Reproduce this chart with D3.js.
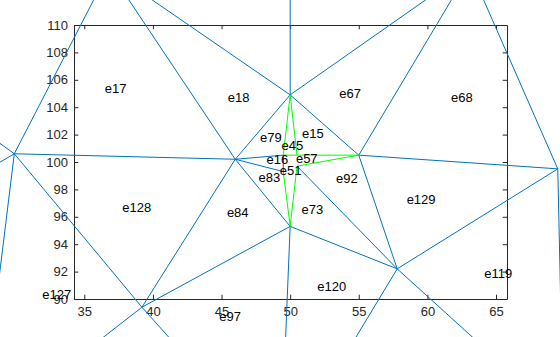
<!DOCTYPE html>
<html>
<head>
<meta charset="utf-8">
<script src="https://cdn.jsdelivr.net/npm/d3@7"></script>
<style>
  body { margin: 0; background: #fff; }
  svg { display: block; overflow: visible; }
</style>
</head>
<body>
<div id="root"></div>
<script>
// mesh vertices (data units), incl. the ones lying outside the axes
const vertexNames = ["A", "B", "C", "D", "E", "F", "G", "H", "P1", "P2", "Q1", "Q2",
  "V1", "V2", "V3", "V4", "V6", "V8", "V9", "V10"];
const vertexX = [50.0, 46.0, 55.0, 50.0, 57.8, 29.9, 39.2, 69.5, 49.5, 49.5, 50.5, 50.5,
  36.8, 63.1, 50.0, 24.8, 27.4, 49.3, 69.9, 24.8];
const vertexY = [104.9, 100.2, 100.5, 95.3, 92.2, 100.6, 89.4, 99.5, 100.5, 99.3, 100.5, 99.7,
  114.0, 114.1, 115.5, 104.3, 80.2, 78.1, 81.2, 97.6];

const blueEdges = [
  ["F", "B"], ["B", "A"], ["B", "D"], ["B", "G"], ["B", "P1"], ["B", "P2"],
  ["A", "C"], ["A", "V1"], ["A", "V3"], ["A", "V2"],
  ["C", "V2"], ["C", "H"], ["C", "E"],
  ["D", "E"], ["D", "G"], ["D", "V8"], ["Q2", "E"],
  ["E", "H"], ["E", "V8"], ["E", "V9"], ["H", "V2"], ["H", "V9"],
  ["F", "V1"], ["B", "V1"], ["F", "V4"], ["F", "V10"], ["F", "V6"], ["F", "G"],
  ["G", "V6"], ["G", "V8"],
];
const greenEdges = [
  ["A", "P1"], ["A", "Q1"], ["P1", "Q1"], ["Q1", "C"], ["Q2", "C"], ["D", "P2"], ["D", "Q2"],
];
const redEdges = [["P1", "P2"]];

const labelText = ["e17", "e18", "e67", "e68", "e79", "e15", "e45", "e16", "e57", "e83",
  "e51", "e92", "e128", "e84", "e73", "e129", "e119", "e120", "e127", "e97"];
const labelX = [37.29, 46.25, 54.37, 62.51, 48.59, 51.65, 50.16, 49.07, 51.21, 48.48,
  50.04, 54.13, 38.82, 46.18, 51.62, 59.54, 65.17, 53.03, 32.99, 45.62];
const labelY = [105.38, 104.69, 105.01, 104.69, 101.8, 102.09, 101.24, 100.22, 100.27, 98.88,
  99.36, 98.81, 96.69, 96.3, 96.55, 97.3, 91.85, 90.95, 90.36, 88.71];

const xTicks = [35, 40, 45, 50, 55, 60, 65];
const yTicks = [90, 92, 94, 96, 98, 100, 102, 104, 106, 108, 110];

const width = 560;
const height = 337;
const box = { left: 74, right: 507, top: 25, bottom: 299 };
const axisColor = "#262626";
const font = "'Liberation Sans', Arial, sans-serif";

const xScale = d3.scaleLinear().domain([34.25, 65.8]).range([box.left, box.right]);
const yScale = d3.scaleLinear().domain([90, 110]).range([box.bottom, box.top]);

const vertices = new Map(
  vertexNames.map((n, i) => [n, { x: vertexX[i], y: vertexY[i] }])
);

const svg = d3
  .select("#root")
  .append("svg")
  .attr("width", width)
  .attr("height", height)
  .attr("viewBox", `0 0 ${width} ${height}`);

function styleAxis(g) {
  g.selectAll("path.domain").attr("stroke", axisColor);
  g.selectAll(".tick line").attr("stroke", axisColor);
  g.selectAll(".tick text")
    .attr("fill", axisColor)
    .style("font-size", "13px")
    .style("font-family", font);
}

// axes, MATLAB style box with inward ticks
svg.append("g")
  .attr("transform", `translate(0, ${box.bottom})`)
  .call(d3.axisBottom(xScale).tickValues(xTicks).tickSizeInner(-4.3).tickSizeOuter(0).tickPadding(8))
  .call(styleAxis);
svg.append("g")
  .attr("transform", `translate(0, ${box.top})`)
  .call(d3.axisTop(xScale).tickValues(xTicks).tickSizeInner(-4.3).tickSizeOuter(0).tickFormat(""))
  .call(styleAxis);
svg.append("g")
  .attr("transform", `translate(${box.left}, 0)`)
  .call(d3.axisLeft(yScale).tickValues(yTicks).tickSizeInner(-4.3).tickSizeOuter(0).tickPadding(6))
  .call(styleAxis);
svg.append("g")
  .attr("transform", `translate(${box.right}, 0)`)
  .call(d3.axisRight(yScale).tickValues(yTicks).tickSizeInner(-4.3).tickSizeOuter(0).tickFormat(""))
  .call(styleAxis);

function drawEdges(edges, color, cls) {
  svg.append("g")
    .selectAll(`.${cls}`)
    .data(edges)
    .join("line")
    .attr("class", cls)
    .attr("x1", (d) => xScale(vertices.get(d[0]).x))
    .attr("y1", (d) => yScale(vertices.get(d[0]).y))
    .attr("x2", (d) => xScale(vertices.get(d[1]).x))
    .attr("y2", (d) => yScale(vertices.get(d[1]).y))
    .attr("stroke", color)
    .attr("stroke-width", 1);
}

drawEdges(blueEdges, "#0072BD", "edge-blue");
drawEdges(greenEdges, "#00FF00", "edge-green");
drawEdges(redEdges, "#FF0000", "edge-red");

svg.append("g")
  .selectAll(".label")
  .data(labelText)
  .join("text")
  .attr("class", "label")
  .attr("x", (d, i) => xScale(labelX[i]))
  .attr("y", (d, i) => yScale(labelY[i]))
  .attr("text-anchor", "middle")
  .attr("dy", "0.35em")
  .attr("fill", "#000")
  .style("font-size", "13px")
  .style("font-family", font)
  .text((d) => d);
</script>
</body>
</html>
